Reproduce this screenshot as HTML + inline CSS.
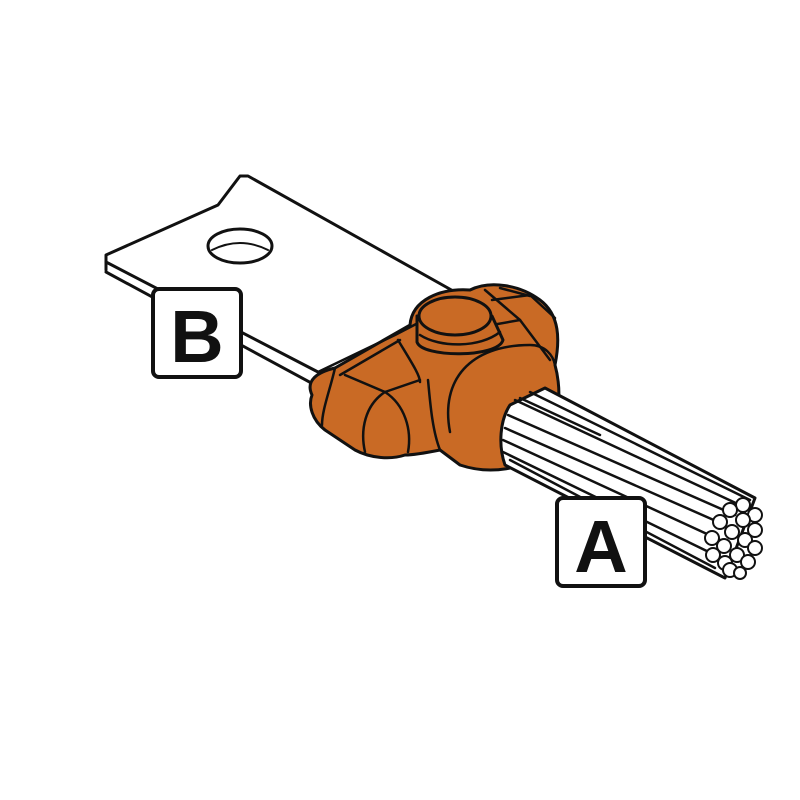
<!DOCTYPE html>
<html><head><style>body{margin:0;background:#fff}svg{display:block}</style></head><body>
<svg width="800" height="800" viewBox="0 0 800 800" xmlns="http://www.w3.org/2000/svg">
<g stroke="#111" stroke-width="3" stroke-linejoin="round" stroke-linecap="round">
<!-- plate -->
<path d="M106,255 L218,205 L240,176 L248,176 L445,285 L420,330 L320,380 L106,270 Z" fill="#fff" stroke="none"/>
<path d="M106,270 L106,255 L218,205 L240,176 L248,176 L455,292" fill="none"/>
<path d="M106,262 L318,372" fill="none"/>
<path d="M106,272 L315,385" fill="none"/>
<ellipse cx="240" cy="246" rx="32" ry="17" fill="#fff"/>
<path d="M212,250 Q240,236 268,250" fill="none" stroke-width="2"/>
<!-- connector -->
<path fill="#C96A25" d="M312,395 C305,380 318,372 335,368 L410,325 C412,300 440,288 470,290 C490,280 520,285 540,300 C560,315 560,340 555,365 C562,390 560,430 545,450 C525,470 490,475 460,465 L440,450 C430,452 415,455 405,455 C390,460 370,458 355,450 L325,430 C312,420 308,405 312,395 Z"/>
<g fill="none" stroke-width="2.5">
<path d="M318,372 L395,335 L420,322"/>
<path d="M340,375 L400,340"/>
<path d="M335,368 C330,390 322,410 322,425"/>
<path d="M345,375 L385,392 L420,380"/>
<path d="M385,392 C365,405 360,430 365,452"/>
<path d="M385,392 C405,405 412,430 408,452"/>
<path d="M398,340 C410,360 420,375 420,382"/>
<path d="M428,380 C430,400 432,430 440,450"/>
<path d="M450,432 C440,380 470,345 530,345 C545,345 553,355 555,365"/>
<path d="M492,300 L530,295 L555,318"/>
<path d="M492,325 L520,320 L550,360"/>
<path d="M485,290 L520,320"/>
<path d="M500,288 L530,296"/>
</g>
<!-- bolt -->
<path fill="#C96A25" d="M417,316 L417,342 C422,358 498,358 503,340 L492,316 Z"/>
<ellipse cx="455" cy="316" rx="36" ry="19" fill="#C96A25"/>
<path d="M420,335 C440,348 480,348 500,332" fill="none" stroke-width="2.5"/>
<!-- cable -->
<path fill="#fff" d="M510,405 L545,388 L755,498 L725,578 L505,465 C498,445 500,420 510,405 Z"/>
<g fill="none" stroke-width="2.5">
<path d="M515,400 L740,505"/>
<path d="M508,415 L735,515"/>
<path d="M505,428 L725,525"/>
<path d="M503,440 L720,540"/>
<path d="M503,452 L715,555"/>
<path d="M530,392 L750,500"/>
<path d="M520,398 L600,435"/>
<path d="M510,460 L715,568"/>
</g>
<g fill="#fff" stroke-width="2">
<circle cx="743" cy="505" r="7"/><circle cx="755" cy="515" r="7"/><circle cx="730" cy="510" r="7"/>
<circle cx="743" cy="520" r="7"/><circle cx="755" cy="530" r="7"/><circle cx="720" cy="522" r="7"/>
<circle cx="732" cy="532" r="7"/><circle cx="745" cy="540" r="7"/><circle cx="755" cy="548" r="7"/>
<circle cx="712" cy="538" r="7"/><circle cx="724" cy="546" r="7"/><circle cx="737" cy="555" r="7"/>
<circle cx="748" cy="562" r="7"/><circle cx="713" cy="555" r="7"/><circle cx="725" cy="563" r="7"/>
<circle cx="730" cy="570" r="7"/><circle cx="740" cy="573" r="6"/>
</g>
</g>
<!-- labels -->
<rect x="153" y="289" width="88" height="88" rx="6" fill="#fff" stroke="#111" stroke-width="4"/>
<text x="197" y="362" text-anchor="middle" font-family="Liberation Sans, sans-serif" font-weight="bold" font-size="74" fill="#111">B</text>
<rect x="557" y="498" width="88" height="88" rx="6" fill="#fff" stroke="#111" stroke-width="4"/>
<text x="601" y="572" text-anchor="middle" font-family="Liberation Sans, sans-serif" font-weight="bold" font-size="74" fill="#111">A</text>
</svg>
</body></html>
